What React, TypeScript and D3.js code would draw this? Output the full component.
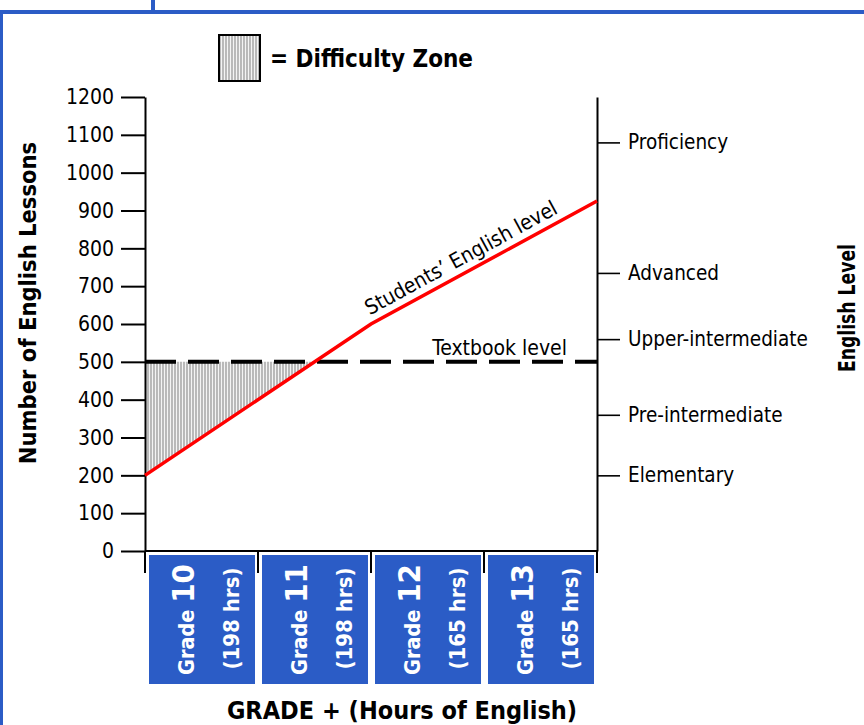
import { useEffect, useRef } from 'react';
import * as d3 from 'd3';

const grades = ['10', '11', '12', '13'];
const gradeHours = [198, 198, 165, 165];
const studentGrade = [0, 2, 4];
const studentLessons = [200, 600, 925];
const textbookLevel = 500;
const lessonTicks = [0, 100, 200, 300, 400, 500, 600, 700, 800, 900, 1000, 1100, 1200];
const levelNames = ['Elementary', 'Pre-intermediate', 'Upper-intermediate', 'Advanced', 'Proficiency'];
const levelLessons = [200, 360, 560, 735, 1080];

const FONT = '"DejaVu Sans Condensed", "DejaVu Sans", Verdana, sans-serif';
const BLUE = '#2b5cc6';

export default function App() {
  const svgRef = useRef<SVGSVGElement>(null);

  useEffect(() => {
    if (!svgRef.current) return;
    const svg = d3.select(svgRef.current);
    svg.selectAll('*').remove();

    const x = d3.scaleLinear().domain([0, grades.length]).range([145, 597]);
    const y = d3.scaleLinear().domain([0, 1200]).range([551, 97]);

    // frame
    svg.append('line').attr('x1', 0).attr('x2', 864).attr('y1', 12).attr('y2', 12)
      .attr('stroke', BLUE).attr('stroke-width', 4);
    svg.append('line').attr('x1', 1.5).attr('x2', 1.5).attr('y1', 12).attr('y2', 725)
      .attr('stroke', BLUE).attr('stroke-width', 3);
    svg.append('line').attr('x1', 153).attr('x2', 153).attr('y1', 0).attr('y2', 12)
      .attr('stroke', BLUE).attr('stroke-width', 4);

    // hatch pattern
    const defs = svg.append('defs');
    const pat = defs.append('pattern').attr('id', 'hatch')
      .attr('patternUnits', 'userSpaceOnUse').attr('width', 3).attr('height', 10);
    pat.append('rect').attr('width', 3).attr('height', 10).attr('fill', '#f4f4f4');
    pat.append('line').attr('x1', 1).attr('x2', 1).attr('y1', 0).attr('y2', 10)
      .attr('stroke', '#9a9a9a').attr('stroke-width', 1.3);

    // difficulty zone: between textbook level and students' line while below it
    const pts = studentGrade.map((g, i) => ({ g, v: studentLessons[i] }));
    const zone: { g: number; v: number }[] = [];
    for (let i = 0; i < pts.length - 1; i++) {
      const a = pts[i], b = pts[i + 1];
      if (a.v < textbookLevel) {
        zone.push(a);
        if (b.v >= textbookLevel) {
          const t = (textbookLevel - a.v) / (b.v - a.v);
          zone.push({ g: a.g + t * (b.g - a.g), v: textbookLevel });
          break;
        }
      }
    }
    const area = d3.area<{ g: number; v: number }>()
      .x(d => x(d.g)).y0(y(textbookLevel)).y1(d => y(d.v));
    svg.append('path').datum(zone).attr('d', area).attr('fill', 'url(#hatch)');

    // left axis
    const left = svg.append('g').attr('transform', `translate(${x(0)},0)`)
      .call(d3.axisLeft(y).tickValues(lessonTicks).tickFormat(d3.format('d'))
        .tickSize(24).tickPadding(7).tickSizeOuter(0));
    left.select('.domain').attr('stroke', '#000').attr('stroke-width', 2);
    left.selectAll('.tick line').attr('stroke', '#000').attr('stroke-width', 2);
    left.selectAll('.tick text').attr('font-family', FONT).attr('font-size', 21).attr('fill', '#000');

    // right axis
    const right = svg.append('g').attr('transform', `translate(${x(grades.length)},0)`)
      .call(d3.axisRight(y).tickValues(levelLessons)
        .tickFormat((_d, i) => levelNames[i]).tickSize(23).tickPadding(8).tickSizeOuter(0));
    right.select('.domain').attr('stroke', '#000').attr('stroke-width', 2);
    right.selectAll('.tick line').attr('stroke', '#000').attr('stroke-width', 1.6);
    right.selectAll('.tick text').attr('font-family', FONT).attr('font-size', 20.5).attr('fill', '#000');

    // bottom axis line and grade separators
    svg.append('line').attr('x1', x(0)).attr('x2', x(grades.length))
      .attr('y1', y(0)).attr('y2', y(0)).attr('stroke', '#000').attr('stroke-width', 2);
    svg.append('g').selectAll('line').data(d3.range(grades.length + 1)).join('line')
      .attr('x1', d => x(d)).attr('x2', d => x(d))
      .attr('y1', y(0)).attr('y2', y(0) + 22)
      .attr('stroke', '#000').attr('stroke-width', 2);

    // grade boxes
    const boxes = svg.append('g').selectAll('g').data(grades).join('g')
      .attr('transform', (_d, i) => `translate(${x(i)},0)`);
    boxes.append('rect')
      .attr('x', 4).attr('y', y(0) + 4)
      .attr('width', x(1) - x(0) - 7).attr('height', 129)
      .attr('fill', BLUE);
    const midY = y(0) + 4 + 129 / 2;
    const gt = boxes.append('text')
      .attr('transform', `translate(49,${midY}) rotate(-90)`)
      .attr('text-anchor', 'middle').attr('fill', '#fff')
      .attr('font-family', FONT).attr('font-weight', 'bold');
    gt.append('tspan').attr('font-size', 21.5).text('Grade ');
    gt.append('tspan').attr('font-size', 31).text(d => d);
    boxes.append('text')
      .attr('transform', `translate(94,${midY - 1}) rotate(-90)`)
      .attr('text-anchor', 'middle').attr('fill', '#fff')
      .attr('font-family', FONT).attr('font-weight', 'bold').attr('font-size', 22)
      .text((_d, i) => `(${gradeHours[i]} hrs)`);

    // textbook level
    svg.append('line').attr('x1', x(0)).attr('x2', x(grades.length))
      .attr('y1', y(textbookLevel)).attr('y2', y(textbookLevel))
      .attr('stroke', '#000').attr('stroke-width', 4).attr('stroke-dasharray', '31 12');
    svg.append('text').attr('x', x(grades.length) - 30).attr('y', y(textbookLevel) - 7)
      .attr('text-anchor', 'end').attr('font-family', FONT).attr('font-size', 21)
      .text('Textbook level');

    // students' line
    const line = d3.line<{ g: number; v: number }>().x(d => x(d.g)).y(d => y(d.v));
    svg.append('path').datum(pts).attr('d', line)
      .attr('fill', 'none').attr('stroke', '#ff0000').attr('stroke-width', 3.5);
    const a = pts[1], b = pts[2];
    const ang = Math.atan2(y(b.v) - y(a.v), x(b.g) - x(a.g));
    const t = 0.43;
    const lx = x(a.g) + t * (x(b.g) - x(a.g)) + Math.sin(ang) * 8;
    const ly = y(a.v) + t * (y(b.v) - y(a.v)) - Math.cos(ang) * 8;
    svg.append('text')
      .attr('transform', `translate(${lx},${ly}) rotate(${(ang * 180) / Math.PI})`)
      .attr('text-anchor', 'middle').attr('font-family', FONT).attr('font-size', 21)
      .text('Students\u2019 English level');

    // legend
    svg.append('rect').attr('x', 219).attr('y', 35).attr('width', 41).attr('height', 46)
      .attr('fill', 'url(#hatch)').attr('stroke', '#000').attr('stroke-width', 2);
    svg.append('text').attr('x', 270).attr('y', 67)
      .attr('font-family', FONT).attr('font-weight', 'bold').attr('font-size', 24)
      .text('= Difficulty Zone');

    // axis titles
    svg.append('text').attr('transform', 'translate(36,303) rotate(-90)')
      .attr('text-anchor', 'middle').attr('font-family', FONT).attr('font-weight', 'bold')
      .attr('font-size', 23.5).text('Number of English Lessons');
    svg.append('text').attr('transform', 'translate(855,308) rotate(-90)')
      .attr('text-anchor', 'middle').attr('font-family', FONT).attr('font-weight', 'bold')
      .attr('font-size', 22.5).attr('textLength', 128).attr('lengthAdjust', 'spacingAndGlyphs')
      .text('English Level');
    svg.append('text').attr('x', 402).attr('y', 719)
      .attr('text-anchor', 'middle').attr('font-family', FONT).attr('font-weight', 'bold')
      .attr('font-size', 25).text('GRADE + (Hours of English)');
  }, []);

  return (
    <svg
      ref={svgRef}
      width={864}
      height={725}
      style={{ position: 'absolute', left: 0, top: 0, background: '#fff' }}
    />
  );
}
